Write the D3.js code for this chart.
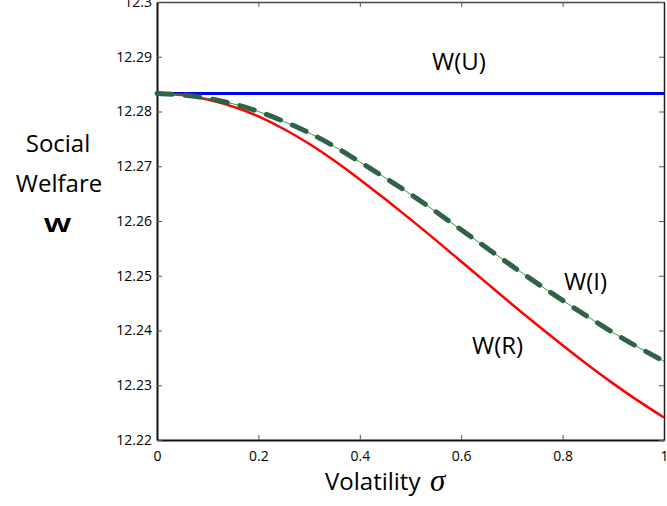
<!DOCTYPE html>
<html>
<head>
<meta charset="utf-8">
<script src="https://cdn.jsdelivr.net/npm/d3@7"></script>
<style>
  body { margin: 0; background: #fff; }
  svg { display: block; font-family: "Open Sans", sans-serif; }
  .tick line { stroke: #555; }
</style>
</head>
<body>
<div id="chart"></div>
<script>
const sigma = [0, 0.05, 0.1, 0.15, 0.2, 0.25, 0.3, 0.35, 0.4, 0.45, 0.5,
               0.55, 0.6, 0.65, 0.7, 0.75, 0.8, 0.85, 0.9, 0.95, 1];
const welfareU = sigma.map(() => 12.2833);
const welfareR = [12.2833, 12.2830, 12.2822, 12.2809, 12.2791, 12.2768, 12.2741, 12.2710, 12.2676, 12.2640, 12.2603,
                  12.2565, 12.2526, 12.2487, 12.2448, 12.2410, 12.2373, 12.2337, 12.2303, 12.2271, 12.2241];
const welfareI = [12.2833, 12.2830, 12.2824, 12.2814, 12.2800, 12.2782, 12.2761, 12.2736, 12.2708, 12.2679, 12.2649,
                  12.2617, 12.2584, 12.2551, 12.2518, 12.2486, 12.2455, 12.2425, 12.2396, 12.2369, 12.2344];
const xTicks = [0, 0.2, 0.4, 0.6, 0.8, 1];
const xTickLabels = ['0', '0.2', '0.4', '0.6', '0.8', '1'];
const yTicks = [12.22, 12.23, 12.24, 12.25, 12.26, 12.27, 12.28, 12.29, 12.3];
const yTickLabels = ['12.22', '12.23', '12.24', '12.25', '12.26', '12.27', '12.28', '12.29', '12.3'];

const margin = {top: 2, right: 3, bottom: 66, left: 157},
   width = 667,
   height = 506;

const svg = d3.select('#chart')
   .append('svg')
   .attr('width', width)
   .attr('height', height);

const x = d3.scaleLinear()
   .domain([0, 1])
   .range([margin.left, width - margin.right]);

const y = d3.scaleLinear()
   .domain([12.22, 12.3])
   .range([height - margin.bottom, margin.top]);

// box with inward ticks on every side
svg.append('g')
   .attr('transform', `translate(0, ${y(12.22)})`)
   .call(d3.axisBottom(x).tickValues(xTicks).tickSizeInner(-5).tickSizeOuter(0).tickPadding(11)
      .tickFormat((d, i) => xTickLabels[i]))
   .call(g => g.select('.domain').attr('stroke', '#111').attr('stroke-width', 2))
   .call(g => g.selectAll('text').attr('font-size', 14).attr('fill', '#000').attr('font-family', '"Open Sans", sans-serif'));

svg.append('g')
   .attr('transform', `translate(0, ${y(12.3)})`)
   .call(d3.axisTop(x).tickValues(xTicks).tickSizeInner(-5).tickSizeOuter(0).tickFormat(''))
   .call(g => g.select('.domain').attr('stroke', '#444').attr('stroke-width', 1.5));

svg.append('g')
   .attr('transform', `translate(${x(1)}, 0)`)
   .call(d3.axisRight(y).tickValues(yTicks).tickSizeInner(-5).tickSizeOuter(0).tickFormat(''))
   .call(g => g.select('.domain').attr('stroke', '#222').attr('stroke-width', 1.5));

svg.append('g')
   .attr('transform', `translate(${x(0)}, 0)`)
   .call(d3.axisLeft(y).tickValues(yTicks).tickSizeInner(-5).tickSizeOuter(0).tickPadding(5)
      .tickFormat((d, i) => yTickLabels[i]))
   .call(g => g.select('.domain').attr('stroke', '#111').attr('stroke-width', 2))
   .call(g => g.selectAll('text').attr('font-size', 14).attr('fill', '#000').attr('font-family', '"Open Sans", sans-serif'));

const line = vals => d3.line()
   .x((d, i) => x(sigma[i]))
   .y(d => y(d))
   .curve(d3.curveNatural)(vals);

svg.append('path')
   .attr('d', line(welfareU))
   .attr('fill', 'none')
   .attr('stroke', '#0000ff')
   .attr('stroke-width', 3);

svg.append('path')
   .attr('d', line(welfareR))
   .attr('fill', 'none')
   .attr('stroke', '#ff0000')
   .attr('stroke-width', 2.5);

svg.append('path')
   .attr('d', line(welfareI))
   .attr('fill', 'none')
   .attr('stroke', '#2ea52e')
   .attr('stroke-width', 1);

svg.append('path')
   .attr('d', line(welfareI))
   .attr('fill', 'none')
   .attr('stroke', '#2e6348')
   .attr('stroke-width', 5)
   .attr('stroke-linecap', 'round')
   .attr('stroke-dasharray', '15,13');

// curve labels
const curveLabels = [
   {text: 'W(U)', x: 432, y: 70},
   {text: 'W(I)', x: 564, y: 290},
   {text: 'W(R)', x: 472, y: 354}
];
svg.selectAll('.curve-label')
   .data(curveLabels)
   .join('text')
   .attr('class', 'curve-label')
   .attr('x', d => d.x)
   .attr('y', d => d.y)
   .attr('font-size', 24)
   .text(d => d.text);

// axis titles
svg.append('text')
   .attr('x', 325)
   .attr('y', 490)
   .attr('font-size', 24)
   .text('Volatility');

svg.append('text')
   .attr('x', 430)
   .attr('y', 491)
   .attr('font-size', 31)
   .attr('font-style', 'italic')
   .attr('font-family', '"Liberation Serif", serif')
   .text('σ');

svg.append('text')
   .attr('x', 58)
   .attr('y', 152)
   .attr('text-anchor', 'middle')
   .attr('font-size', 24)
   .text('Social');

svg.append('text')
   .attr('x', 59)
   .attr('y', 192)
   .attr('text-anchor', 'middle')
   .attr('font-size', 24)
   .text('Welfare');

svg.append('text')
   .attr('x', 44)
   .attr('y', 232)
   .attr('font-size', 20)
   .attr('font-weight', 'bold')
   .attr('textLength', 27)
   .attr('lengthAdjust', 'spacingAndGlyphs')
   .text('W');
</script>
</body>
</html>
